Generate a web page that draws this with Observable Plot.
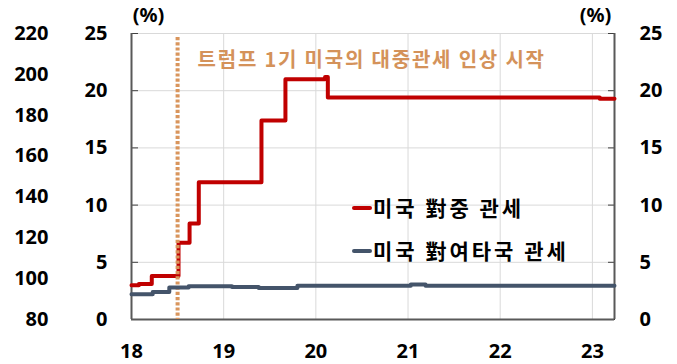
<!DOCTYPE html>
<html><head><meta charset="utf-8">
<script src="https://cdn.jsdelivr.net/npm/d3@7"></script>
<script src="https://cdn.jsdelivr.net/npm/@observablehq/plot@0.6"></script>
<style>
body{margin:0;background:#fff;}
#wrap{position:relative;width:677px;height:364px;}
.leg{position:absolute;display:flex;align-items:center;font:bold 21px 'Noto Sans CJK KR',sans-serif;letter-spacing:3px;color:#000;white-space:nowrap;line-height:1;}
.leg i{display:inline-block;width:20px;height:4px;margin-right:1px;border-radius:2px;}
</style></head><body><div id="wrap"></div>
<script>
// US tariff on China (%), step values; x = decimal year (18 = 2018)
const chinaYears = [18.00, 18.08, 18.22, 18.51, 18.63, 18.73, 19.41, 19.67, 20.10, 20.13, 23.08, 23.24];
const chinaRates = [3.0, 3.1, 3.8, 6.7, 8.4, 12.0, 17.4, 21.0, 21.2, 19.4, 19.3, 19.3];
// US tariff on rest of world (%)
const otherYears = [18.00, 18.23, 18.41, 18.62, 19.09, 19.38, 19.80, 21.03, 21.19, 23.24];
const otherRates = [2.2, 2.4, 2.8, 2.9, 2.85, 2.75, 2.95, 3.05, 2.95, 2.95];
const seriesNames = ["미국 對중 관세", "미국 對여타국 관세"];
const seriesColors = ["#c00000", "#44546a"];
const xTicks = [18, 19, 20, 21, 22, 23];
const yTicks = [0, 5, 10, 15, 20, 25];
const outerTicks = [80, 100, 120, 140, 160, 180, 200, 220];
const eventYear = [18.5];
const eventLabel = "트럼프 1기 미국의 대중관세 인상 시작";
const unitLabel = "(%)";
const xDomain = [18, 23.24];

const china = chinaYears.map((x, i) => ({x, y: chinaRates[i]}));
const other = otherYears.map((x, i) => ({x, y: otherRates[i]}));

const plot = Plot.plot({
  width: 677, height: 364,
  marginTop: 33, marginBottom: 45, marginLeft: 131, marginRight: 63,
  x: {domain: xDomain},
  y: {domain: [0, 25]},
  style: {fontFamily: "'Noto Sans', 'Noto Sans CJK KR', sans-serif", fontSize: "20px", fontWeight: "bold", color: "#000", background: "#fff"},
  marks: [
    Plot.gridY(yTicks.filter(d => d > 0), {stroke: "#d9d9d9", strokeOpacity: 1}),
    Plot.gridX(xTicks.filter(d => d > 18), {stroke: "#d9d9d9", strokeOpacity: 1}),
    Plot.axisY(yTicks, {anchor: "left", tickSize: -7, tickPadding: 31, stroke: "#404040", label: null}),
    Plot.axisY(yTicks, {anchor: "right", tickSize: -7, tickPadding: 32, stroke: "#404040", label: null}),
    Plot.axisX(xTicks, {tickSize: 0, tickPadding: 24, label: null, tickFormat: d => String(d)}),
    Plot.text(outerTicks, {y: d => (d - 80) / 140 * 25, text: d => String(d), frameAnchor: "left", dx: -83, textAnchor: "end"}),
    Plot.ruleX(xDomain, {stroke: "#595959", strokeWidth: 2}),
    Plot.ruleY([0], {stroke: "#595959", strokeWidth: 2}),
    Plot.line(china, {x: "x", y: "y", curve: "step-after", stroke: seriesColors[0], strokeWidth: 4}),
    Plot.ruleX(eventYear, {stroke: "#d9955c", strokeWidth: 4, strokeDasharray: "3.2,2", insetTop: 4}),
    Plot.line(other, {x: "x", y: "y", curve: "step-after", stroke: seriesColors[1], strokeWidth: 4}),
    Plot.text([eventLabel], {frameAnchor: "top-left", dx: 66, dy: 27, textAnchor: "start", lineAnchor: "middle", fill: "#d4925a", fontSize: 20, fontFamily: "'Noto Sans CJK KR', sans-serif", style: "letter-spacing:1.8px"}),
    Plot.text([unitLabel], {frameAnchor: "top-left", dx: 17, dy: -18, textAnchor: "middle", lineAnchor: "middle"}),
    Plot.text([unitLabel], {frameAnchor: "top-right", dx: -19, dy: -18, textAnchor: "middle", lineAnchor: "middle"})
  ]
});
const wrap = document.getElementById("wrap");
wrap.appendChild(plot);
d3.select(plot).selectAll("text").filter(function() { return this.textContent === eventLabel; }).style("letter-spacing", "1.8px");
const legPos = [[352, 208], [352, 251]];
seriesNames.forEach((name, i) => {
  const d = document.createElement("div");
  d.className = "leg";
  d.style.left = legPos[i][0] + "px";
  d.style.top = (legPos[i][1] - 11) + "px";
  d.innerHTML = `<i style="background:${seriesColors[i]}"></i><span>${name}</span>`;
  wrap.appendChild(d);
});
</script></body></html>
